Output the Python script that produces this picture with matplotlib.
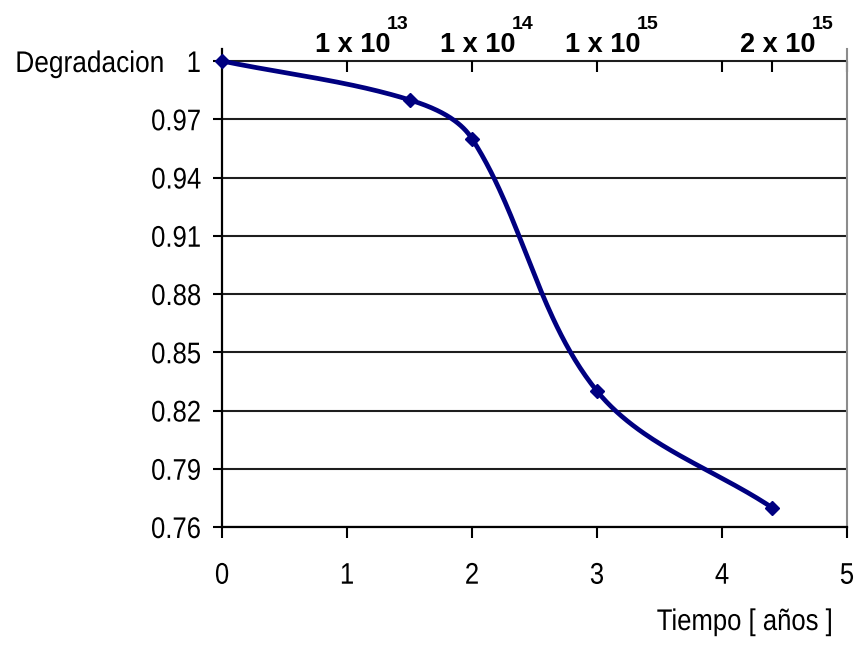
import numpy as np
import matplotlib
matplotlib.use("Agg")
import matplotlib.pyplot as plt
from matplotlib import transforms
from matplotlib import markers
from matplotlib import patheffects
from matplotlib.transforms import Affine2D

# Measured degradation over time
years = [0.0, 1.5, 2.0, 3.0, 4.4]
degradation = [1.00, 0.98, 0.96, 0.83, 0.77]

# Axis ticks and labels
x_ticks = [0, 1, 2, 3, 4, 5]
x_tick_labels = ["0", "1", "2", "3", "4", "5"]
y_ticks = [0.76, 0.79, 0.82, 0.85, 0.88, 0.91, 0.94, 0.97, 1.00]
y_tick_labels = ["0.76", "0.79", "0.82", "0.85", "0.88", "0.91", "0.94", "0.97", "1"]

# Secondary (dose) scale along the top
top_ticks = [1, 2, 3, 4, 4.4, 5]
dose_positions = [1, 2, 3, 4.4]
dose_mantissa = ["1 x 10", "1 x 10", "1 x 10", "2 x 10"]
dose_exponent = ["13", "14", "15", "15"]

NAVY = "#000080"
SANS = ["Liberation Sans", "DejaVu Sans"]
LABEL_SIZE = 21.5
SQUEEZE = 0.86


class Squeeze(patheffects.AbstractPathEffect):
    """Draw text horizontally condensed about its left, centre or right edge."""

    def __init__(self, sx, anchor="center"):
        super().__init__()
        self.sx = sx
        self.anchor = anchor

    def draw_path(self, renderer, gc, tpath, affine, rgbFace=None):
        ext = tpath.get_extents(affine)
        if self.anchor == "left":
            x0 = ext.x0
        elif self.anchor == "right":
            x0 = ext.x1
        else:
            x0 = 0.5 * (ext.x0 + ext.x1)
        t = affine + Affine2D().translate(-x0, 0).scale(self.sx, 1.0).translate(x0, 0)
        renderer.draw_path(gc, tpath, t, rgbFace)


def smooth_curve(ax, xs, ys, n=60):
    """Bezier smoothing through every point, computed in display space.

    Each control arm follows the chord of the neighbouring points and is one
    third of the current segment's length, so short segments do not overshoot.
    """
    pts = ax.transData.transform(np.column_stack([xs, ys]).astype(float))
    ext = np.vstack([pts[0], pts, pts[-1]])
    t = np.linspace(0.0, 1.0, n)[:, None]
    out = []
    for i in range(len(pts) - 1):
        p0, p1, p2, p3 = ext[i], ext[i + 1], ext[i + 2], ext[i + 3]
        seg_len = np.linalg.norm(p2 - p1)
        d1 = (p2 - p0) / np.linalg.norm(p2 - p0)
        d2 = (p3 - p1) / np.linalg.norm(p3 - p1)
        c1 = p1 + d1 * seg_len / 3.0
        c2 = p2 - d2 * seg_len / 3.0
        seg = ((1 - t) ** 3) * p1 + 3 * ((1 - t) ** 2) * t * c1 \
            + 3 * (1 - t) * t ** 2 * c2 + t ** 3 * p2
        out.append(seg if i == 0 else seg[1:])
    return ax.transData.inverted().transform(np.vstack(out))


W, H = 860, 646
fig = plt.figure(figsize=(W / 100, H / 100), dpi=100)
fig.patch.set_facecolor("white")

left, right, bottom, top = 222, 847, 527, 49
ax = fig.add_axes([left / W, 1 - bottom / H, (right - left) / W, (bottom - top) / H])

ax.set_xlim(0, 5)
ax.set_ylim(0.76, 1.0 + 0.03 * 12 / 58.25)

# Frame
ax.spines["top"].set_visible(False)
ax.spines["right"].set_color("#8c8c8c")
ax.spines["right"].set_linewidth(1.5)
for s in ("left", "bottom"):
    ax.spines[s].set_color("black")
    ax.spines[s].set_linewidth(1.6)

# Horizontal gridlines
ax.set_yticks(y_ticks)
ax.set_yticklabels(y_tick_labels)
ax.yaxis.grid(True, color="#1e1e1e", linewidth=1.5)
ax.set_axisbelow(True)

ax.set_xticks(x_ticks)
ax.set_xticklabels(x_tick_labels)

ax.tick_params(axis="y", direction="out", length=6.5, width=1.5, pad=8.5,
               labelsize=LABEL_SIZE, colors="black")
ax.tick_params(axis="x", direction="out", length=8, width=1.5, pad=17,
               labelsize=LABEL_SIZE, colors="black")
for lab in ax.get_yticklabels():
    lab.set_fontfamily(SANS)
    lab.set_path_effects([Squeeze(SQUEEZE, "right")])
for lab in ax.get_xticklabels():
    lab.set_fontfamily(SANS)
    lab.set_path_effects([Squeeze(SQUEEZE, "center")])

# Top dose scale ticks hanging from the 1.0 line
ax.plot(top_ticks, [1.0] * len(top_ticks), linestyle="none",
        marker=markers.TICKDOWN, markersize=8, markeredgewidth=1.5,
        color="black", clip_on=False, zorder=2)

# Smoothed degradation curve with markers
curve = smooth_curve(ax, years, degradation)
ax.plot(curve[:, 0], curve[:, 1], color=NAVY, linewidth=3.4,
        solid_capstyle="round", solid_joinstyle="round", zorder=3, clip_on=False)
ax.plot(years, degradation, linestyle="none", marker="D", markersize=7,
        color=NAVY, zorder=4, clip_on=False)

# Dose labels above the plot
blend = transforms.blended_transform_factory(ax.transData, fig.transFigure)
shift = transforms.ScaledTranslation(6 / 100, 0, fig.dpi_scale_trans)
for xp, mant, expo in zip(dose_positions, dose_mantissa, dose_exponent):
    base = ax.text(xp, 1 - 52 / H, mant, transform=blend + shift,
                   ha="center", va="baseline", fontsize=19.5,
                   fontweight="bold", family=SANS, color="black")
    ax.annotate(expo, xy=(1, 1), xycoords=base, xytext=(-4, 3),
                textcoords="offset pixels", ha="left", va="baseline",
                fontsize=14, fontweight="bold", family=SANS, color="black",
                annotation_clip=False)

# Axis titles
fig.text(15 / W, 1 - 72 / H, "Degradacion", ha="left", va="baseline",
         fontsize=LABEL_SIZE, family=SANS, color="black",
         path_effects=[Squeeze(SQUEEZE + 0.02, "left")])
fig.text(833 / W, 1 - 630 / H, "Tiempo [ años ]", ha="right", va="baseline",
         fontsize=LABEL_SIZE, family=SANS, color="black",
         path_effects=[Squeeze(SQUEEZE, "right")])

fig.savefig("out.png", dpi=100, facecolor="white")
